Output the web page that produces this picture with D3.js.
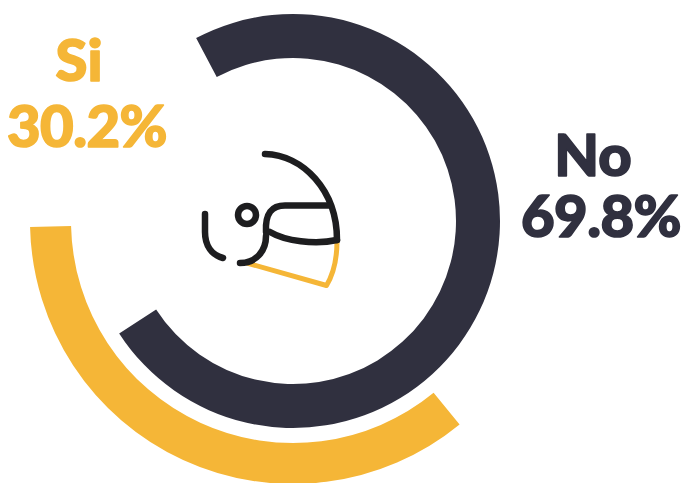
<!DOCTYPE html>
<html>
<head>
<meta charset="utf-8">
<style>
html, body { margin: 0; padding: 0; background: #fff; }
svg { display: block; }
text { font-family: "Lato", "Open Sans", sans-serif; font-weight: 900; stroke-width: 1.6; stroke-linejoin: round; paint-order: stroke; }
</style>
<script src="https://cdn.jsdelivr.net/npm/d3@7/dist/d3.min.js"></script>
</head>
<body>
<svg id="chart" width="683" height="483"></svg>
<script>
// Survey answers and their ring shares
const categories = ["No", "Si"];
const shares = [69.8, 30.2];
const tickLabels = ["69.8%", "30.2%"];
const colors = ["#30303f", "#f5b637"];

// Each answer gets its own concentric ring
const ringStart = [-27.9, 140.7];
const ringInner = [163, 222];
const ringOuter = [207, 263];
const nameAnchor = [[593, 176], [79, 81]];
const shareAnchor = [[601, 237], [87, 147]];

const svg = d3.select("#chart");
const centre = svg.append("g").attr("transform", "translate(293,221)");

// Share to swept angle, in degrees
const sweep = d3.scaleLinear().domain([0, 100]).range([23.5, 369.5]);
const rad = d3.scaleLinear().domain([0, 180]).range([0, Math.PI]);
const arc = d3.arc();

centre.selectAll("path.ring")
  .data(categories)
  .join("path")
  .attr("class", "ring")
  .attr("fill", (d, i) => colors[i])
  .attr("d", (d, i) => arc({
    innerRadius: ringInner[i],
    outerRadius: ringOuter[i],
    startAngle: rad(ringStart[i]),
    endAngle: rad(ringStart[i] + sweep(shares[i]))
  }));

// Category name with its percentage underneath
categories.forEach((name, i) => {
  const label = svg.append("g").attr("fill", colors[i]).attr("stroke", colors[i]).attr("text-anchor", "middle");
  label.append("text").attr("x", nameAnchor[i][0]).attr("y", nameAnchor[i][1]).attr("font-size", 58).text(name);
  label.append("text").attr("x", shareAnchor[i][0]).attr("y", shareAnchor[i][1]).attr("font-size", 58).attr("letter-spacing", -0.5).text(tickLabels[i]);
});

// Helmet pictogram in the middle of the rings
const helmet = svg.append("g").attr("fill", "none").attr("stroke-linecap", "round").attr("stroke-linejoin", "round");
helmet.append("path")
  .attr("stroke", colors[1]).attr("stroke-width", 5)
  .attr("d", "M247 263 L326.5 285.5 Q337 268 337 241");
const ink = helmet.append("g").attr("stroke", "#1d1d1f").attr("stroke-width", 6.5);
ink.append("path").attr("d", "M265 154 C303 155 337 190 337 240");
ink.append("path").attr("d", "M329 205.500 L285 205.500 C272 205.500 265 213 266 232");
ink.append("path").attr("d", "M270 232 C285 241 315 245 337 240");
ink.append("path").attr("d", "M266 236 C266 251 256 263 240 263");
ink.append("path").attr("d", "M205 214 L205 232 C205 246 212 255 223 258");
ink.append("circle").attr("cx", 247).attr("cy", 215).attr("r", 9);
</script>
</body>
</html>
